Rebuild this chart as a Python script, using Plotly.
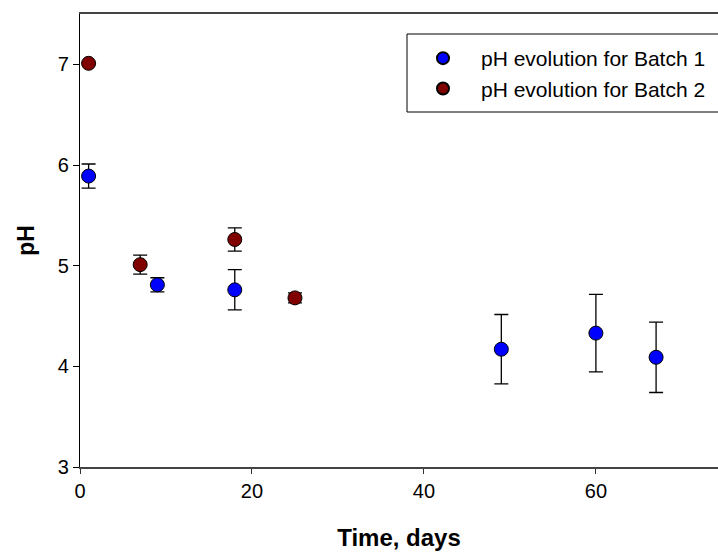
import plotly.graph_objects as go

# Batch 1 data
b1_days = [1, 9, 18, 49, 60, 67]
b1_ph = [5.89, 4.81, 4.76, 4.17, 4.33, 4.09]
b1_err = [0.12, 0.07, 0.20, 0.345, 0.385, 0.35]

# Batch 2 data
b2_days = [1, 7, 18, 25]
b2_ph = [7.01, 5.01, 5.26, 4.68]
b2_err = [0.0, 0.095, 0.115, 0.05]

FONT = "Liberation Sans, Arial, sans-serif"

fig = go.Figure()
fig.add_trace(go.Scatter(
    x=b1_days, y=b1_ph, mode="markers", name="pH evolution for Batch 1",
    marker=dict(size=14, color="#0000ff", line=dict(color="black", width=1)),
    error_y=dict(type="data", array=b1_err, visible=True, color="black", thickness=1.3, width=7),
))
fig.add_trace(go.Scatter(
    x=b2_days, y=b2_ph, mode="markers", name="pH evolution for Batch 2",
    marker=dict(size=14, color="#800000", line=dict(color="black", width=1)),
    error_y=dict(type="data", array=b2_err, visible=True, color="black", thickness=1.3, width=7),
))

fig.update_layout(
    width=718, height=552,
    margin=dict(l=80, r=0, t=14, b=85),
    plot_bgcolor="white", paper_bgcolor="white",
    font=dict(family=FONT, color="black", size=20),
    showlegend=True,
    legend=dict(
        x=(405 - 80) / 638, y=(467 - 38) / 453, xanchor="left", yanchor="top",
        bgcolor="rgba(0,0,0,0)", borderwidth=0,
        font=dict(size=21, family=FONT), tracegroupgap=0, itemsizing="constant",
        itemwidth=66,
    ),
    shapes=[dict(type="rect", xref="paper", yref="paper",
                 x0=(407 - 80) / 638, x1=1.05, y0=(467 - 112) / 453, y1=(467 - 34) / 453,
                 line=dict(color="black", width=1), fillcolor="rgba(0,0,0,0)")],
)
fig.update_xaxes(
    range=[0, 74.2], tickvals=[0, 20, 40, 60], ticks="outside", ticklen=5,
    tickcolor="#333", showline=True, linecolor="#444", linewidth=1.5, mirror=True,
    showgrid=False, zeroline=False,
    title=dict(text="<b>Time, days</b>", font=dict(size=24), standoff=28),
    tickfont=dict(size=20),
)
fig.update_yaxes(
    range=[3, 7.5], tickvals=[3, 4, 5, 6, 7], ticks="outside", ticklen=6,
    tickcolor="black", showline=True, linecolor="black", linewidth=1.2, mirror=False,
    showgrid=False, zeroline=False,
    title=dict(text="<b>pH</b>", font=dict(size=23), standoff=16),
    tickfont=dict(size=20),
)

fig.write_html("out.html")
